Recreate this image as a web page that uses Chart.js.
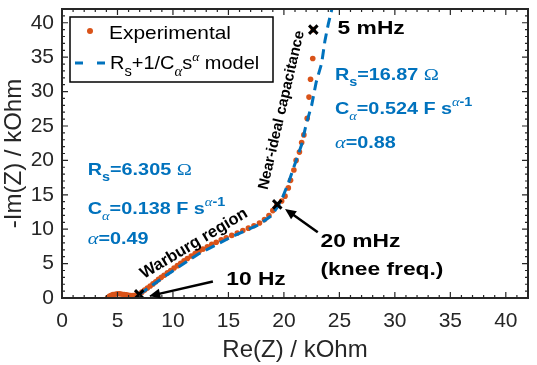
<!DOCTYPE html>
<html>
<head>
<meta charset="utf-8">
<script src="https://cdn.jsdelivr.net/npm/chart.js@4.4.1/dist/chart.umd.min.js"></script>
<style>
  html, body { margin: 0; padding: 0; background: #fff; }
  #wrap { width: 537px; height: 365px; }
</style>
</head>
<body>
<div id="wrap"><canvas id="nyquist" width="537" height="365"></canvas></div>
<script>
// Nyquist plot, values in kOhm
const expRe = [4.1, 4.2, 4.3, 4.45, 4.6, 4.8, 5.0, 5.2, 5.4, 5.6, 5.8, 6.0, 6.2, 6.4, 6.6, 6.8,
  6.96, 7.2, 7.45, 7.7, 7.95, 8.2, 8.45, 8.7, 8.95, 9.2, 9.5, 9.8, 10.1, 10.4, 10.7, 11.0, 11.3, 11.65,
  12.0, 12.35, 12.7, 13.1, 13.5, 13.9, 14.35, 14.8, 15.3, 15.8, 16.3, 16.8, 17.3, 17.8, 18.25, 18.65,
  19.0, 19.35, 19.8, 20.1, 20.4, 20.6, 20.9, 21.1, 21.4, 21.6, 21.8, 22.1, 22.26, 22.4, 22.6, 22.65];
const expIm = [0.0, 0.15, 0.3, 0.4, 0.5, 0.55, 0.6, 0.6, 0.55, 0.5, 0.45, 0.4, 0.35, 0.35, 0.4, 0.45,
  0.55, 0.85, 1.15, 1.45, 1.75, 2.05, 2.35, 2.7, 3.0, 3.3, 3.65, 4.0, 4.35, 4.7, 5.05, 5.4, 5.75, 6.1,
  6.45, 6.8, 7.1, 7.45, 7.8, 8.1, 8.45, 8.75, 9.1, 9.45, 9.8, 10.15, 10.5, 10.9, 11.4, 12.0,
  12.7, 13.4, 14.1, 14.8, 16.0, 17.1, 18.6, 20.0, 21.2, 22.6, 23.7, 26.1, 29.2, 31.8, 34.8, 39.0];

const modelRe = [6.96, 9.3, 12.3, 15.3, 17.7, 18.9, 19.4, 19.8, 20.4, 21.0, 21.6, 22.0, 22.5, 22.9, 23.4, 23.7, 24.0, 24.4];
const modelIm = [0.5, 3.2, 6.4, 8.9, 10.6, 12.0, 13.2, 14.3, 16.7, 19.5, 22.3, 25.2, 28.0, 31.3, 34.1, 37.4, 39.8, 42.5];

// 10 Hz, 20 mHz (knee), 5 mHz
const markRe = [6.96, 19.4, 22.65];
const markIm = [0.52, 13.6, 39.0];

const xTicks = [0, 5, 10, 15, 20, 25, 30, 35, 40];
const yTicks = [0, 5, 10, 15, 20, 25, 30, 35, 40];

const ORANGE = '#D95319';
const BLUE = '#0072BD';
const AXIS = '#262626';
const SANS = '"Liberation Sans", Arial, sans-serif';
const SERIF = '"Liberation Serif", "Times New Roman", serif';
const b = s => `bold ${s}px ${SANS}`;
const n = s => `${s}px ${SANS}`;
const it = s => `italic ${s}px ${SERIF}`;
const rm = s => `${s}px ${SERIF}`;

function drawRich(ctx, x, y, parts, sx) {
  ctx.save();
  ctx.translate(x, y);
  ctx.scale(sx, 1);
  ctx.textBaseline = 'alphabetic';
  ctx.textAlign = 'left';
  let cx = 0;
  parts.forEach(p => {
    ctx.font = p[1];
    ctx.fillStyle = p[3] || '#000';
    ctx.fillText(p[0], cx, p[2] || 0);
    cx += ctx.measureText(p[0]).width;
  });
  ctx.restore();
}

function arrow(ctx, x0, y0, x1, y1) {
  const ang = Math.atan2(y1 - y0, x1 - x0);
  const hl = 11, hw = 5;
  ctx.save();
  ctx.strokeStyle = '#000';
  ctx.fillStyle = '#000';
  ctx.lineWidth = 2.5;
  ctx.beginPath();
  ctx.moveTo(x0, y0);
  ctx.lineTo(x1 - Math.cos(ang) * hl * 0.8, y1 - Math.sin(ang) * hl * 0.8);
  ctx.stroke();
  ctx.beginPath();
  ctx.moveTo(x1, y1);
  ctx.lineTo(x1 - Math.cos(ang) * hl - Math.sin(ang) * hw, y1 - Math.sin(ang) * hl + Math.cos(ang) * hw);
  ctx.lineTo(x1 - Math.cos(ang) * hl + Math.sin(ang) * hw, y1 - Math.sin(ang) * hl - Math.cos(ang) * hw);
  ctx.closePath();
  ctx.fill();
  ctx.restore();
}

function rotText(ctx, x, y, deg, text, font) {
  ctx.save();
  ctx.translate(x, y);
  ctx.rotate(deg * Math.PI / 180);
  ctx.font = font;
  ctx.fillStyle = '#000';
  ctx.textAlign = 'center';
  ctx.textBaseline = 'middle';
  ctx.fillText(text, 0, 0);
  ctx.restore();
}

// box frame with inward ticks
const frame = {
  id: 'frame',
  afterDraw(chart) {
    const c = chart.ctx, a = chart.chartArea;
    const sx = chart.scales.x, sy = chart.scales.y;
    c.save();
    c.strokeStyle = AXIS;
    c.lineWidth = 2;
    c.strokeRect(a.left, a.top, a.right - a.left, a.bottom - a.top);
    c.lineWidth = 1.2;
    c.beginPath();
    for (let v = 1; v < 42; v++) {
      const len = v % 5 === 0 ? 6 : 3;
      const px = sx.getPixelForValue(v), py = sy.getPixelForValue(v);
      c.moveTo(px, a.bottom); c.lineTo(px, a.bottom - len);
      c.moveTo(px, a.top); c.lineTo(px, a.top + len);
      c.moveTo(a.left, py); c.lineTo(a.left + len, py);
      c.moveTo(a.right, py); c.lineTo(a.right - len, py);
    }
    c.stroke();
    c.restore();
  }
};

// annotations and legend
const decor = {
  id: 'decor',
  afterDraw(chart) {
    const { ctx, chartArea: a, scales: { x, y } } = chart;
    const X = v => x.getPixelForValue(v);
    const Y = v => y.getPixelForValue(v);

    // blue fit parameters
    const S = 1.2;
    drawRich(ctx, X(24.6), Y(31.75), [['R', b(16.5), 0, BLUE], ['s', b(12), 6, BLUE], ['=16.87 ', b(16.5), 0, BLUE], ['\u03A9', rm(17), 0, BLUE]], S);
    drawRich(ctx, X(24.6), Y(26.8), [['C', b(16.5), 0, BLUE], ['\u03B1', it(12), 6, BLUE], ['=0.524 F s', b(16.5), 0, BLUE], ['\u03B1', it(12), -8, BLUE], ['-1', b(12), -8, BLUE]], S);
    drawRich(ctx, X(24.6), Y(21.8), [['\u03B1', it(17), 0, BLUE], ['=0.88', b(16.5), 0, BLUE]], S);
    drawRich(ctx, X(2.32), Y(17.9), [['R', b(16.5), 0, BLUE], ['s', b(12), 6, BLUE], ['=6.305 ', b(16.5), 0, BLUE], ['\u03A9', rm(17), 0, BLUE]], S);
    drawRich(ctx, X(2.32), Y(12.2), [['C', b(16.5), 0, BLUE], ['\u03B1', it(12), 6, BLUE], ['=0.138 F s', b(16.5), 0, BLUE], ['\u03B1', it(12), -8, BLUE], ['-1', b(12), -8, BLUE]], S);
    drawRich(ctx, X(2.32), Y(7.8), [['\u03B1', it(17), 0, BLUE], ['=0.49', b(16.5), 0, BLUE]], S);

    // frequency labels
    drawRich(ctx, X(24.84), Y(38.4), [['5 mHz', b(19)]], S);
    drawRich(ctx, X(23.3), Y(7.4), [['20 mHz', b(19)]], S);
    drawRich(ctx, X(23.3), Y(3.4), [['(knee freq.)', b(19)]], S);
    drawRich(ctx, X(14.8), Y(1.85), [['10 Hz', b(19)]], S);
    arrow(ctx, X(23.05), Y(9.54), X(20.1), Y(12.95));
    arrow(ctx, X(13.6), Y(2.4), X(7.86), Y(0.28));

    rotText(ctx, X(11.9), Y(7.9), -31, 'Warburg region', b(16.5));
    rotText(ctx, X(19.8), Y(27.3), -77, 'Near-ideal capacitance', b(15));

    // legend
    const lx = a.left + 8, ly = a.top + 8, lw = 203, lh = 65;
    ctx.save();
    ctx.fillStyle = '#fff';
    ctx.fillRect(lx, ly, lw, lh);
    ctx.strokeStyle = '#000';
    ctx.lineWidth = 1.5;
    ctx.strokeRect(lx, ly, lw, lh);
    ctx.fillStyle = ORANGE;
    ctx.beginPath();
    ctx.arc(lx + 20, ly + 14, 3, 0, Math.PI * 2);
    ctx.fill();
    ctx.strokeStyle = BLUE;
    ctx.lineWidth = 3;
    ctx.setLineDash([8, 14]);
    ctx.beginPath();
    ctx.moveTo(lx + 5, ly + 46);
    ctx.lineTo(lx + 36, ly + 46);
    ctx.stroke();
    ctx.restore();
    drawRich(ctx, lx + 39, ly + 22, [['Experimental', n(19)]], 1.1);
    drawRich(ctx, lx + 40, ly + 52, [['R', n(19)], ['s', n(14), 7], ['+1/C', n(19)], ['\u03B1', it(14), 7], ['s', n(19)], ['\u03B1', it(13), -8], [' model', n(19)]], 1.05);
  }
};

new Chart(document.getElementById('nyquist').getContext('2d'), {
  type: 'scatter',
  data: {
    datasets: [
      {
        label: 'markers',
        data: markRe.map((v, i) => ({ x: v, y: markIm[i] })),
        pointStyle: 'crossRot',
        pointRadius: 6,
        pointBorderWidth: 3,
        borderColor: '#000',
        backgroundColor: '#000',
        order: 0
      },
      {
        label: 'model',
        data: modelRe.map((v, i) => ({ x: v, y: modelIm[i] })),
        showLine: true,
        borderColor: BLUE,
        borderWidth: 3,
        borderDash: [10, 6],
        pointRadius: 0,
        order: 1
      },
      {
        label: 'Experimental',
        data: expRe.map((v, i) => ({ x: v, y: expIm[i] })),
        pointRadius: 2.8,
        pointBorderWidth: 0,
        backgroundColor: ORANGE,
        borderColor: ORANGE,
        order: 2
      }
    ]
  },
  options: {
    responsive: false,
    animation: false,
    devicePixelRatio: 1,
    layout: { padding: { top: 1, right: 5, left: 0, bottom: 0 } },
    plugins: { legend: { display: false }, tooltip: { enabled: false } },
    scales: {
      x: {
        type: 'linear',
        min: 0,
        max: 42,
        afterFit: s => { s.height = 67; s.paddingLeft = 0; s.paddingRight = 0; },
        afterBuildTicks: s => { s.ticks = xTicks.map(v => ({ value: v })); },
        grid: { display: false, drawTicks: false },
        border: { display: false },
        ticks: { color: AXIS, font: { family: SANS, size: 21 }, padding: 11, maxRotation: 0 },
        title: { display: true, text: 'Re(Z) / kOhm', color: AXIS, font: { family: SANS, size: 24 }, padding: 0 }
      },
      y: {
        type: 'linear',
        min: 0,
        max: 42,
        afterFit: s => { s.width = 62; s.paddingTop = 0; s.paddingBottom = 0; },
        afterBuildTicks: s => { s.ticks = yTicks.map(v => ({ value: v })); },
        grid: { display: false, drawTicks: false },
        border: { display: false },
        ticks: { color: AXIS, font: { family: SANS, size: 21, lineHeight: 0.4 }, padding: 8 },
        title: { display: true, text: '-Im(Z) / kOhm', color: AXIS, font: { family: SANS, size: 24 }, padding: 0 }
      }
    }
  },
  plugins: [frame, decor]
});
</script>
</body>
</html>
